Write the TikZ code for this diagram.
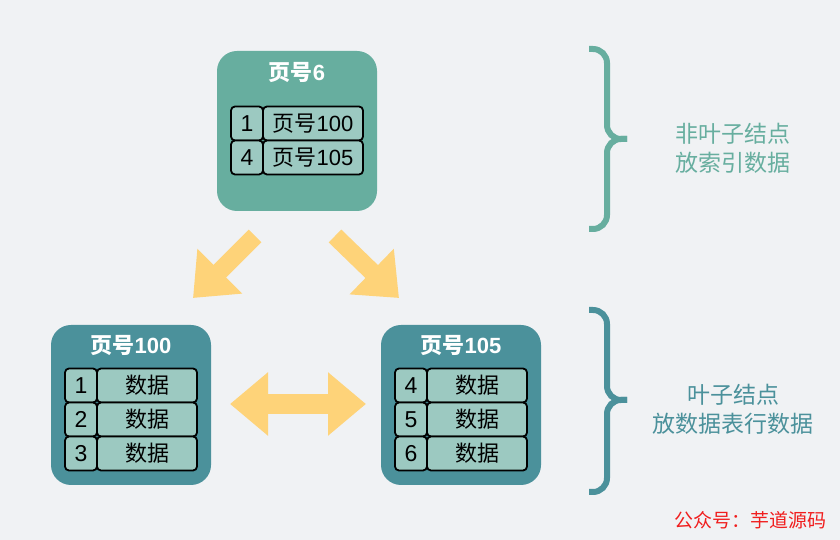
\documentclass[tikz,border=0pt]{standalone}
\usepackage{fontspec}
\setmainfont{Noto Sans CJK SC}
\newfontfamily\digitfont{Liberation Sans}
\usetikzlibrary{arrows.meta, positioning, calc}
\definecolor{cBack}{RGB}{240, 242, 244}
\definecolor{cInner}{RGB}{103, 174, 159}
\definecolor{cLeaf}{RGB}{75, 145, 155}
\definecolor{cCell}{RGB}{156, 201, 193}
\definecolor{cArrow}{RGB}{254, 211, 121}
\definecolor{cMark}{RGB}{240, 30, 30}
\newcommand{\dg}[1]{{\digitfont #1}}

\begin{document}
\begin{tikzpicture}[
    x=1pt, y=1pt,
    node distance=0pt,
    page/.style={
        fill=#1,
        rounded corners=20pt,
        minimum width=160pt,
        minimum height=160pt,
        inner sep=0pt
    },
    title/.style={text=white, font=\fontsize{22}{26}\selectfont\bfseries, inner sep=0pt},
    cell/.style={
        draw=black,
        fill=cCell,
        line width=1.8pt,
        rounded corners=4pt,
        minimum height=34pt,
        inner sep=0pt,
        outer sep=0pt,
        font=\fontsize{22}{26}\selectfont
    },
    keycell/.style={cell, minimum width=32pt, font=\fontsize{23}{26}\selectfont\digitfont},
    valcell/.style={cell, minimum width=100pt},
    bigarrow/.style={line width=18pt, draw=cArrow, -{Triangle[length=38pt, width=61pt]}},
    bothways/.style={line width=20pt, draw=cArrow, {Triangle[length=38pt, width=61pt]}-{Triangle[length=38pt, width=61pt]}},
    curly/.style={draw=#1, line width=6pt, rounded corners=14pt},
    note/.style={text=#1, align=center, font=\fontsize{23}{29}\selectfont}
]

\fill[cBack] (0,0) rectangle (840,540);
\useasboundingbox (0,0) rectangle (840,540);

% non-leaf page
\node[page=cInner] (p6) at (297, 409) {};
\node[title] (t6) at ([yshift=-22pt]p6.north) {页号\dg{6}};
\node[keycell] (k61) at (247, 416.5) {1};
\node[valcell, right=of k61] (v61) {页号\dg{100}};
\node[keycell, below=of k61] (k62) {4};
\node[valcell, right=of k62] (v62) {页号\dg{105}};

% leaf pages
\node[page=cLeaf] (p100) at (131, 135) {};
\node[title] (t100) at ([yshift=-21pt]p100.north) {页号\dg{100}};
\node[keycell] (k1001) at (81, 154.5) {1};
\node[valcell, right=of k1001] (v1001) {数据};
\node[keycell, below=of k1001] (k1002) {2};
\node[valcell, right=of k1002] (v1002) {数据};
\node[keycell, below=of k1002] (k1003) {3};
\node[valcell, right=of k1003] (v1003) {数据};

\node[page=cLeaf] (p105) at (461, 135) {};
\node[title] (t105) at ([yshift=-21pt]p105.north) {页号\dg{105}};
\node[keycell] (k1051) at (411, 154.5) {4};
\node[valcell, right=of k1051] (v1051) {数据};
\node[keycell, below=of k1051] (k1052) {5};
\node[valcell, right=of k1052] (v1052) {数据};
\node[keycell, below=of k1052] (k1053) {6};
\node[valcell, right=of k1053] (v1053) {数据};

% block arrows
\coordinate (a1) at (255, 304);
\coordinate (a1tip) at (193, 242);
\coordinate (a2) at (335, 304);
\coordinate (a2tip) at (399, 242);
\coordinate (b1) at (230, 136);
\coordinate (b2) at (366, 136);
\draw[bigarrow] (a1) -- (a1tip);
\draw[bigarrow] (a2) -- (a2tip);
\draw[bothways] (b1) -- (b2);

% braces and notes
\draw[curly=cInner] (589, 491) -- (607, 491) -- (607, 401) -- (627, 401);
\draw[curly=cInner] (589, 311) -- (607, 311) -- (607, 401) -- (627, 401);
\draw[curly=cLeaf] (589, 230) -- (607, 230) -- (607, 140) -- (627, 140);
\draw[curly=cLeaf] (589, 48) -- (607, 48) -- (607, 140) -- (627, 140);

\node[note=cInner] (n1) at (733, 391.5) {非叶子结点\\放索引数据};
\node[note=cLeaf] (n2) at (733, 130.5) {叶子结点\\放数据表行数据};

\node[text=cMark, font=\fontsize{19}{22}\selectfont, inner sep=0pt] (mark) at (750, 20) {公众号：芋道源码};

\end{tikzpicture}
\end{document}
